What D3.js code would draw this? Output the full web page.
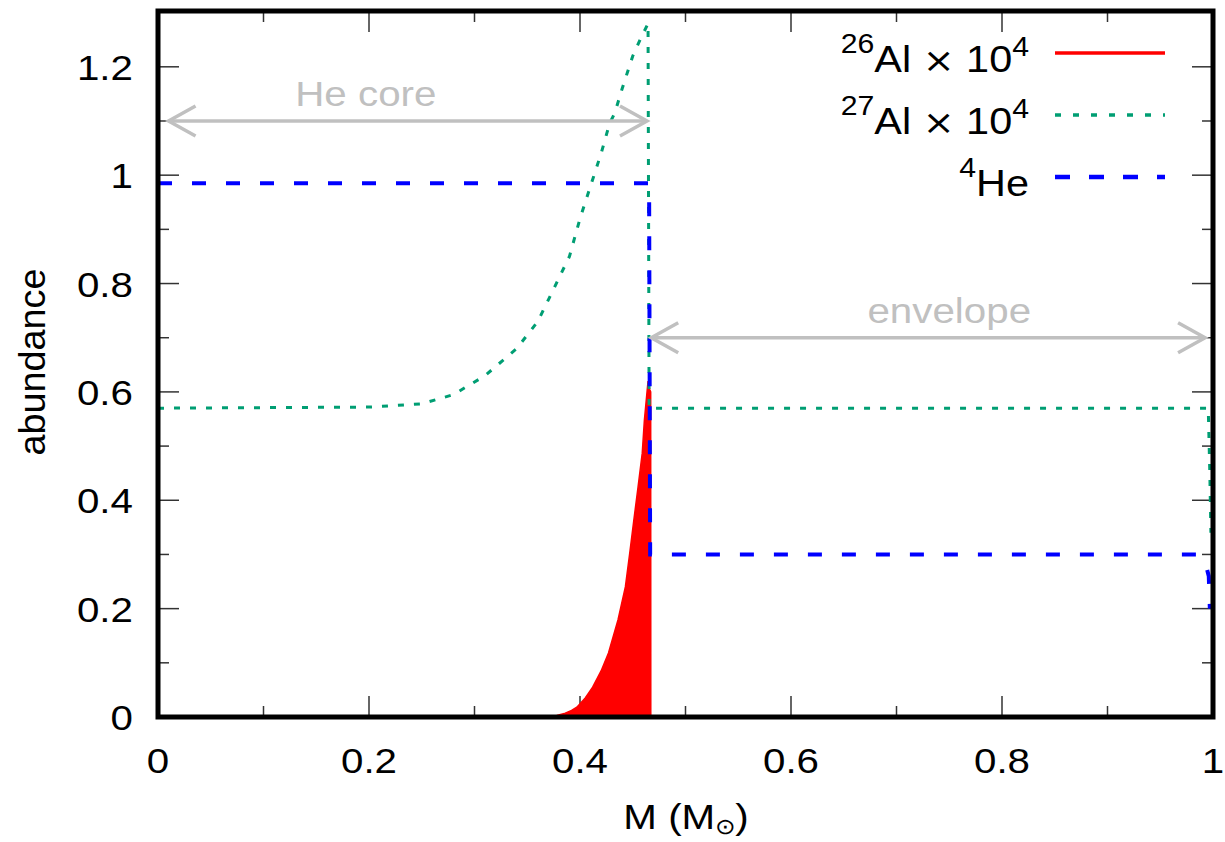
<!DOCTYPE html>
<html><head><meta charset="utf-8">
<script src="https://cdn.jsdelivr.net/npm/d3@7"></script>
<style>
html,body{margin:0;padding:0;background:#fff;}
svg{display:block;font-family:"Liberation Sans",Arial,Helvetica,sans-serif;}
</style></head>
<body>
<script>
// ---- data ----
const al26M = [0, 0.30, 0.355, 0.369, 0.378, 0.386, 0.392, 0.397, 0.405, 0.412, 0.42, 0.427, 0.436, 0.443, 0.447, 0.451, 0.455, 0.459, 0.461, 0.4645, 0.466, 0.467, 0.4671, 1.0];
const al26V = [0, 0, 0, 0.001, 0.003, 0.007, 0.012, 0.018, 0.035, 0.055, 0.085, 0.118, 0.179, 0.24, 0.30, 0.363, 0.424, 0.487, 0.547, 0.62, 0.605, 0.60, 0, 0];
const al27M = [0, 0.2, 0.25, 0.28, 0.31, 0.34, 0.36, 0.37, 0.38, 0.39, 0.40, 0.41, 0.42, 0.428, 0.433, 0.44, 0.45, 0.457, 0.4645, 0.4655, 0.99, 0.9955, 0.997, 0.998];
const al27V = [0.57, 0.572, 0.578, 0.595, 0.63, 0.68, 0.73, 0.77, 0.81, 0.85, 0.92, 0.98, 1.04, 1.095, 1.115, 1.16, 1.22, 1.25, 1.28, 0.57, 0.57, 0.57, 0.45, 0.34];
const he4M = [0, 0.4655, 0.4665, 0.985, 0.99, 0.994, 0.996, 0.9965, 0.997];
const he4V = [0.985, 0.985, 0.30, 0.30, 0.288, 0.275, 0.26, 0.23, 0.2];
const xTicks = [0, 0.2, 0.4, 0.6, 0.8, 1];
const xTickLabels = ["0", "0.2", "0.4", "0.6", "0.8", "1"];
const yTicks = [0, 0.2, 0.4, 0.6, 0.8, 1, 1.2];
const yTickLabels = ["0", "0.2", "0.4", "0.6", "0.8", "1", "1.2"];
const regions = [
  {label: "He core", from: 0.01, to: 0.4635, y: 1.1, labelAt: 0.197},
  {label: "envelope", from: 0.4675, to: 0.9925, y: 0.7, labelAt: 0.75}
];

const W = 1225, H = 842;
const m = {left: 158, right: 1213, top: 11, bottom: 717};
const x = d3.scaleLinear().domain([0, 1]).range([m.left, m.right]);
const y = d3.scaleLinear().domain([0, 1.303]).range([m.bottom, m.top]);

const svg = d3.select("body").append("svg").attr("width", W).attr("height", H);

svg.append("clipPath").attr("id", "clip").append("rect")
  .attr("x", m.left).attr("y", m.top).attr("width", m.right - m.left).attr("height", m.bottom - m.top);

const FS = 36;
const SX = 1.12;
const tickCol = "#333";

function txt(parent, tx, ty, anchor, size, rot) {
  return parent.append("text")
    .attr("transform", `translate(${tx},${ty})${rot ? ` rotate(${rot})` : ""} scale(${SX},1)`)
    .attr("text-anchor", anchor).attr("font-size", size);
}

// ticks (inward) on all four sides, major + minor
const minorX = d3.range(0.1, 1.0, 0.2);
const minorY = d3.range(0.1, 1.3, 0.2);
const tg = svg.append("g").attr("stroke", tickCol).attr("stroke-width", 1.5);
xTicks.forEach(v => {
  tg.append("line").attr("x1", x(v)).attr("x2", x(v)).attr("y1", m.bottom).attr("y2", m.bottom - 21);
  tg.append("line").attr("x1", x(v)).attr("x2", x(v)).attr("y1", m.top).attr("y2", m.top + 21);
});
minorX.forEach(v => {
  tg.append("line").attr("x1", x(v)).attr("x2", x(v)).attr("y1", m.bottom).attr("y2", m.bottom - 11);
  tg.append("line").attr("x1", x(v)).attr("x2", x(v)).attr("y1", m.top).attr("y2", m.top + 11);
});
yTicks.forEach(v => {
  tg.append("line").attr("y1", y(v)).attr("y2", y(v)).attr("x1", m.left).attr("x2", m.left + 21);
  tg.append("line").attr("y1", y(v)).attr("y2", y(v)).attr("x1", m.right).attr("x2", m.right - 21);
});
minorY.forEach(v => {
  tg.append("line").attr("y1", y(v)).attr("y2", y(v)).attr("x1", m.left).attr("x2", m.left + 11);
  tg.append("line").attr("y1", y(v)).attr("y2", y(v)).attr("x1", m.right).attr("x2", m.right - 11);
});

// tick labels
xTicks.forEach((v, i) => {
  txt(svg, x(v), 773, "middle", FS).text(xTickLabels[i]);
});
yTicks.forEach((v, i) => {
  txt(svg, 133, y(v), "end", FS).attr("dy", "0.36em").text(yTickLabels[i]);
});

// axis titles
const xl = txt(svg, 686, 829, "middle", FS);
xl.append("tspan").text("M (M");
xl.append("tspan").attr("font-size", 22).attr("dy", 5).text("⊙");
xl.append("tspan").attr("dy", -5).text(")");
svg.append("text").attr("transform", `translate(45,362) rotate(-90) scale(1.05,1)`).attr("text-anchor", "middle")
  .attr("font-size", FS).text("abundance");

// data
const plot = svg.append("g").attr("clip-path", "url(#clip)");
const d26 = al26M.map((v, i) => [v, al26V[i]]);
const d27 = al27M.map((v, i) => [v, al27V[i]]);
const dHe = he4M.map((v, i) => [v, he4V[i]]);

plot.append("path").datum(d26)
  .attr("d", d3.area().x(d => x(d[0])).y0(y(0)).y1(d => y(d[1])))
  .attr("fill", "#ff0000").attr("stroke", "#ff0000").attr("stroke-width", 1.5);

const line = d3.line().x(d => x(d[0])).y(d => y(d[1]));
plot.append("path").datum(d27).attr("d", line)
  .attr("fill", "none").attr("stroke", "#009e73").attr("stroke-width", 3).attr("stroke-dasharray", "6,10");
plot.append("path").datum(dHe).attr("d", line)
  .attr("fill", "none").attr("stroke", "#0000ff").attr("stroke-width", 4).attr("stroke-dasharray", "14,20");

// region arrows
const gray = "#c0c0c0";
regions.forEach(r => {
  const g = svg.append("g").attr("stroke", gray).attr("stroke-width", 3.5).attr("fill", "none");
  const x0 = x(r.from), x1 = x(r.to), yy = y(r.y);
  g.append("line").attr("x1", x0).attr("x2", x1).attr("y1", yy).attr("y2", yy);
  g.append("path").attr("d", `M${x0 + 27},${yy - 15}L${x0},${yy}L${x0 + 27},${yy + 15}`);
  g.append("path").attr("d", `M${x1 - 27},${yy - 15}L${x1},${yy}L${x1 - 27},${yy + 15}`);
  txt(svg, x(r.labelAt), yy - 15, "middle", FS).attr("fill", gray).text(r.label);
});

// legend
const legend = [
  {iso: "26", name: "Al", times: true, color: "#ff0000", dash: null, w: 3.5},
  {iso: "27", name: "Al", times: true, color: "#009e73", dash: "6,12", w: 3.5},
  {iso: "4", name: "He", times: false, color: "#0000ff", dash: "15,19", w: 4.5}
];
legend.forEach((d, i) => {
  const ly = 53 + i * 62;
  svg.append("line").attr("x1", 1055).attr("x2", 1165).attr("y1", ly).attr("y2", ly)
    .attr("stroke", d.color).attr("stroke-width", d.w).attr("stroke-dasharray", d.dash);
  const t = txt(svg, 1029, ly + 19, "end", 37);
  t.append("tspan").attr("font-size", 27).attr("dy", -19).text(d.iso);
  t.append("tspan").attr("dy", 19).text(d.name);
  if (d.times) {
    t.append("tspan").text(" ");
    t.append("tspan").attr("font-family", "DejaVu Sans").attr("font-size", 34).text("\u00D7");
    t.append("tspan").text(" 10");
    t.append("tspan").attr("font-size", 27).attr("dy", -16).text("4");
  }
});

// frame
svg.append("rect").attr("x", m.left).attr("y", m.top).attr("width", m.right - m.left).attr("height", m.bottom - m.top)
  .attr("fill", "none").attr("stroke", "#000").attr("stroke-width", 5);
</script>
</body></html>
